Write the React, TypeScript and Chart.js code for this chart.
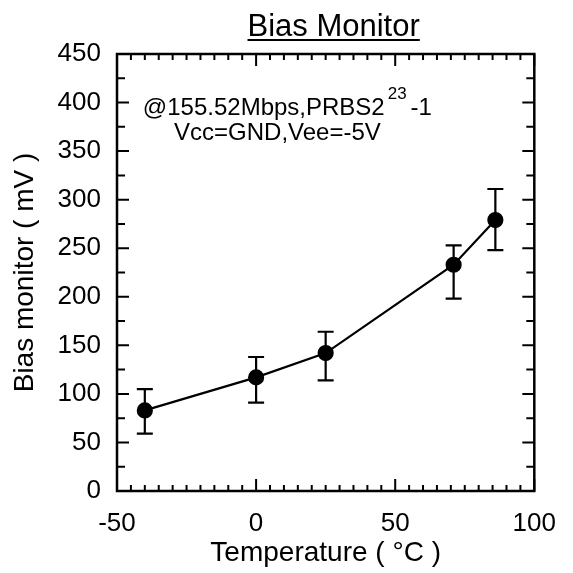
import React, { useEffect, useRef } from "react";
import { Chart, registerables } from "chart.js";

Chart.register(...registerables);

// ---- data ----
const temperatures = [-40, 0, 25, 71, 86];
const biasMonitor = [83, 117, 142, 233, 279];
const errorHigh = [105, 138, 164, 253, 311];
const errorLow = [59, 91, 114, 198, 248];

const xMin = -50;
const xMax = 100;
const xMajorStep = 50;
const xMinorStep = 5;
const yMin = 0;
const yMax = 450;
const yMajorStep = 50;
const yMinorStep = 25;

const titleText = "Bias Monitor";
const xTitleText = "Temperature ( °C )";
const yTitleText = "Bias monitor ( mV )";
const noteMain = "@155.52Mbps,PRBS2";
const noteSup = "23";
const noteTail = "-1";
const noteLine2 = "Vcc=GND,Vee=-5V";
// anchor of the annotation, in data units
const noteLine1Pos = { x: -40.7, y: 387 };
const noteLine2Pos = { x: -29.5, y: 361 };

const FONT = '"Liberation Sans", Arial, Helvetica, sans-serif';

const framePlugin = {
  id: "frameAndExtras",
  beforeDatasetsDraw(chart: any) {
    const { ctx } = chart;
    const xs = chart.scales.x;
    const ys = chart.scales.y;
    ctx.save();
    ctx.strokeStyle = "#000";
    ctx.lineWidth = 2.2;
    for (let i = 0; i < temperatures.length; i++) {
      const px = xs.getPixelForValue(temperatures[i]);
      const pHi = ys.getPixelForValue(errorHigh[i]);
      const pLo = ys.getPixelForValue(errorLow[i]);
      const cap = 8;
      ctx.beginPath();
      ctx.moveTo(px, pHi);
      ctx.lineTo(px, pLo);
      ctx.moveTo(px - cap, pHi);
      ctx.lineTo(px + cap, pHi);
      ctx.moveTo(px - cap, pLo);
      ctx.lineTo(px + cap, pLo);
      ctx.stroke();
    }
    ctx.restore();
  },
  afterDraw(chart: any) {
    const { ctx, chartArea } = chart;
    const { left, right, top, bottom } = chartArea;
    const xs = chart.scales.x;
    const ys = chart.scales.y;
    ctx.save();
    ctx.strokeStyle = "#000";
    ctx.fillStyle = "#000";

    // tick marks on all four sides (inward)
    ctx.lineWidth = 2;
    ctx.beginPath();
    for (let v = xMin; v <= xMax + 1e-9; v += xMinorStep) {
      const px = xs.getPixelForValue(v);
      const major = Math.abs(v % xMajorStep) < 1e-9;
      const len = major ? 12 : 6;
      ctx.moveTo(px, bottom);
      ctx.lineTo(px, bottom - len);
      ctx.moveTo(px, top);
      ctx.lineTo(px, top + len);
    }
    for (let v = yMin; v <= yMax + 1e-9; v += yMinorStep) {
      const py = ys.getPixelForValue(v);
      const major = Math.abs(v % yMajorStep) < 1e-9;
      const len = major ? 12 : 8;
      ctx.moveTo(left, py);
      ctx.lineTo(left + len, py);
      ctx.moveTo(right, py);
      ctx.lineTo(right - len, py);
    }
    ctx.stroke();

    // frame
    ctx.lineWidth = 2.5;
    ctx.strokeRect(left, top, right - left, bottom - top);

    // title with underline
    ctx.font = `31px ${FONT}`;
    ctx.textAlign = "center";
    ctx.textBaseline = "alphabetic";
    const tx = (left + right) / 2 + 8;
    const ty = 36;
    ctx.fillText(titleText, tx, ty);
    const tw = ctx.measureText(titleText).width;
    ctx.lineWidth = 2;
    ctx.beginPath();
    ctx.moveTo(tx - tw / 2, ty + 4);
    ctx.lineTo(tx + tw / 2, ty + 4);
    ctx.stroke();

    // annotation
    ctx.textAlign = "left";
    const l1x = xs.getPixelForValue(noteLine1Pos.x);
    const l1y = ys.getPixelForValue(noteLine1Pos.y);
    ctx.font = `24px ${FONT}`;
    ctx.fillText(noteMain, l1x, l1y);
    let cx = l1x + ctx.measureText(noteMain).width + 3;
    ctx.font = `17px ${FONT}`;
    ctx.fillText(noteSup, cx, l1y - 16);
    cx += ctx.measureText(noteSup).width + 4;
    ctx.font = `24px ${FONT}`;
    ctx.fillText(noteTail, cx, l1y);

    const l2x = xs.getPixelForValue(noteLine2Pos.x);
    const l2y = ys.getPixelForValue(noteLine2Pos.y);
    ctx.fillText(noteLine2, l2x, l2y);

    ctx.restore();
  },
};

export default function App() {
  const canvasRef = useRef<HTMLCanvasElement | null>(null);

  useEffect(() => {
    if (!canvasRef.current) return;
    Chart.defaults.font.family = FONT;
    Chart.defaults.color = "#000";
    const points = temperatures.map((t, i) => ({ x: t, y: biasMonitor[i] }));
    const chart = new Chart(canvasRef.current, {
      type: "line",
      data: {
        datasets: [
          {
            data: points,
            borderColor: "#000",
            borderWidth: 2.2,
            backgroundColor: "#000",
            pointRadius: 7,
            pointHoverRadius: 7,
            pointBackgroundColor: "#000",
            pointBorderColor: "#000",
            tension: 0,
            fill: false,
          },
        ],
      },
      options: {
        responsive: true,
        maintainAspectRatio: false,
        animation: false,
        layout: { padding: { top: 54, right: 36, left: 0, bottom: 0 } },
        plugins: {
          legend: { display: false },
          tooltip: { enabled: false },
          title: { display: false },
        },
        scales: {
          x: {
            type: "linear",
            min: xMin,
            max: xMax,
            grid: { display: false, drawTicks: false },
            border: { display: false },
            ticks: {
              stepSize: xMajorStep,
              color: "#000",
              font: { size: 26, family: FONT },
              padding: 17,
              maxRotation: 0,
            },
            title: {
              display: true,
              text: xTitleText,
              color: "#000",
              font: { size: 28, family: FONT },
              padding: { top: 0, bottom: 3 },
            },
            afterFit: (s: any) => {
              s.height = 82;
            },
          },
          y: {
            type: "linear",
            min: yMin,
            max: yMax,
            grid: { display: false, drawTicks: false },
            border: { display: false },
            ticks: {
              stepSize: yMajorStep,
              color: "#000",
              font: { size: 26, family: FONT },
              padding: 16,
            },
            title: {
              display: true,
              text: yTitleText,
              color: "#000",
              font: { size: 28, family: FONT },
              padding: { top: 8, bottom: 0 },
            },
            afterFit: (s: any) => {
              s.width = 117;
            },
          },
        },
      },
      plugins: [framePlugin],
    });
    return () => chart.destroy();
  }, []);

  return (
    <div
      style={{
        position: "fixed",
        left: 0,
        top: 0,
        width: 573,
        height: 573,
        background: "#fff",
      }}
    >
      <canvas ref={canvasRef} />
    </div>
  );
}
